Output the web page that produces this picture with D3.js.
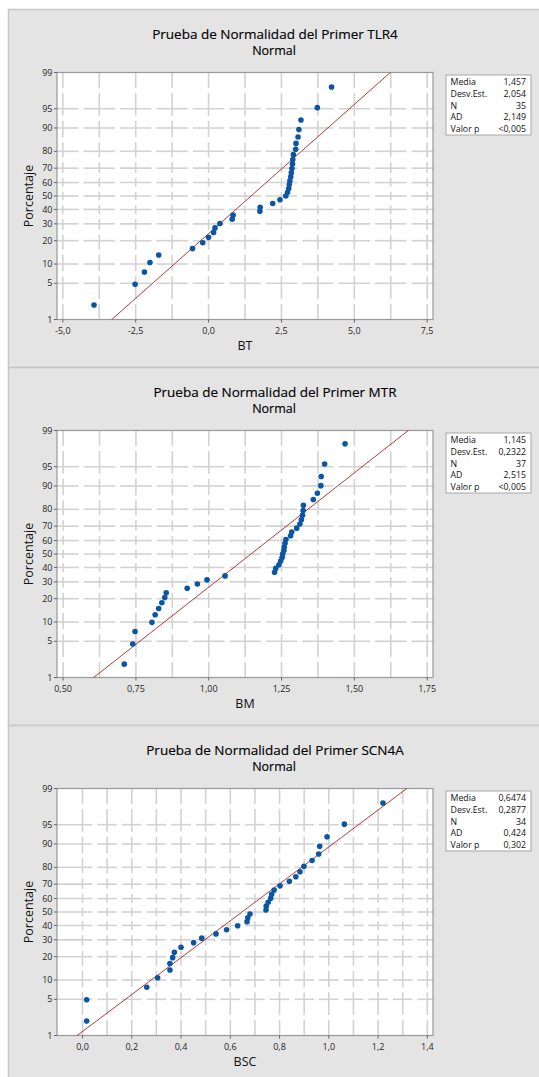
<!DOCTYPE html>
<html><head><meta charset="utf-8">
<script src="https://cdn.jsdelivr.net/npm/d3@7"></script>
<style>body{margin:0;background:#fff} svg{display:block}</style>
</head><body><svg id="c" width="539" height="1077"></svg>
<script>
// ---------- data ----------
const titles = ["Prueba de Normalidad del Primer TLR4", "Prueba de Normalidad del Primer MTR", "Prueba de Normalidad del Primer SCN4A"];
const subtitle = "Normal";
const xLabels = ["BT", "BM", "BSC"];
const yLabel = "Porcentaje";
const yTickLabels = [1, 5, 10, 20, 30, 40, 50, 60, 70, 80, 90, 95, 99];

const tlr4Values = [-3.93, -2.52, -2.20, -2.01, -1.71, -0.55, -0.20, 0.00, 0.17, 0.22, 0.39, 0.81, 0.84, 1.76, 1.77, 2.20, 2.45, 2.65, 2.71, 2.75, 2.77, 2.79, 2.82, 2.84, 2.86, 2.88, 2.89, 2.91, 2.99, 3.00, 3.07, 3.10, 3.17, 3.73, 4.22];
const tlr4Percent = [2.0, 4.8, 7.6, 10.5, 13.3, 16.1, 18.9, 21.8, 24.6, 27.4, 30.2, 33.1, 35.9, 38.7, 41.5, 44.4, 47.2, 50.0, 52.8, 55.6, 58.5, 61.3, 64.1, 66.9, 69.8, 72.6, 75.4, 78.2, 81.1, 83.9, 86.7, 89.5, 92.4, 95.2, 98.0];

const mtrValues = [0.710, 0.739, 0.747, 0.805, 0.816, 0.828, 0.839, 0.849, 0.854, 0.926, 0.961, 0.994, 1.056, 1.226, 1.230, 1.241, 1.247, 1.252, 1.254, 1.258, 1.259, 1.262, 1.265, 1.281, 1.285, 1.302, 1.313, 1.318, 1.322, 1.324, 1.325, 1.359, 1.373, 1.385, 1.386, 1.398, 1.468];
const mtrPercent = [1.9, 4.5, 7.2, 9.9, 12.6, 15.2, 17.9, 20.6, 23.3, 25.9, 28.6, 31.3, 34.0, 36.6, 39.3, 42.0, 44.7, 47.3, 50.0, 52.7, 55.3, 58.0, 60.7, 63.4, 66.0, 68.7, 71.4, 74.1, 76.7, 79.4, 82.1, 84.8, 87.4, 90.1, 92.8, 95.5, 98.1];

const scn4aValues = [0.017, 0.017, 0.261, 0.305, 0.355, 0.355, 0.366, 0.373, 0.400, 0.451, 0.484, 0.542, 0.585, 0.630, 0.668, 0.671, 0.680, 0.745, 0.746, 0.754, 0.764, 0.768, 0.778, 0.802, 0.840, 0.866, 0.883, 0.899, 0.932, 0.959, 0.963, 0.993, 1.063, 1.220];
const scn4aPercent = [2.0, 4.9, 7.8, 10.8, 13.7, 16.6, 19.5, 22.4, 25.3, 28.2, 31.1, 34.0, 36.9, 39.8, 42.7, 45.6, 48.5, 51.5, 54.4, 57.3, 60.2, 63.1, 66.0, 68.9, 71.8, 74.7, 77.6, 80.5, 83.4, 86.3, 89.2, 92.2, 95.1, 98.0];

const tlr4XTicks = [-5, -2.5, 0, 2.5, 5, 7.5];
const mtrXTicks = [0.5, 0.75, 1.0, 1.25, 1.5, 1.75];
const scn4aXTicks = [0, 0.2, 0.4, 0.6, 0.8, 1.0, 1.2, 1.4];

const statLabels = ["Media", "Desv.Est.", "N", "AD", "Valor p"];
const tlr4Stats = ["1,457", "2,054", "35", "2,149", "<0,005"];
const mtrStats = ["1,145", "0,2322", "37", "2,515", "<0,005"];
const scn4aStats = ["0,6474", "0,2877", "34", "0,424", "0,302"];
const fitMeans = [1.457, 1.145, 0.6474];
const fitSDs = [2.054, 0.2322, 0.2877];

// ---------- helpers ----------
function normInv(p){
  const a=[-3.969683028665376e+01,2.209460984245205e+02,-2.759285104469687e+02,1.383577518672690e+02,-3.066479806614716e+01,2.506628277459239e+00];
  const b=[-5.447609879822406e+01,1.615858368580409e+02,-1.556989798598866e+02,6.680131188771972e+01,-1.328068155288572e+01];
  const c=[-7.784894002430293e-03,-3.223964580411365e-01,-2.400758277161838e+00,-2.549732539343734e+00,4.374664141464968e+00,2.938163982698783e+00];
  const d=[7.784695709041462e-03,3.224671290700398e-01,2.445134137142996e+00,3.754408661907416e+00];
  const plow=0.02425, phigh=1-plow; let q, r;
  if(p<plow){q=Math.sqrt(-2*Math.log(p));return (((((c[0]*q+c[1])*q+c[2])*q+c[3])*q+c[4])*q+c[5])/((((d[0]*q+d[1])*q+d[2])*q+d[3])*q+1);}
  if(p>phigh){q=Math.sqrt(-2*Math.log(1-p));return -(((((c[0]*q+c[1])*q+c[2])*q+c[3])*q+c[4])*q+c[5])/((((d[0]*q+d[1])*q+d[2])*q+d[3])*q+1);}
  q=p-0.5; r=q*q;
  return (((((a[0]*r+a[1])*r+a[2])*r+a[3])*r+a[4])*r+a[5])*q/(((((b[0]*r+b[1])*r+b[2])*r+b[3])*r+b[4])*r+1);
}
const comma = s => s.replace(".", ",");

const panels = [
  {title: titles[0], xlabel: xLabels[0], values: tlr4Values, pct: tlr4Percent, ticks: tlr4XTicks, gridStep: 1.25, domain: [-5.2, 7.7], dec: 1, stats: tlr4Stats, mean: fitMeans[0], sd: fitSDs[0]},
  {title: titles[1], xlabel: xLabels[1], values: mtrValues, pct: mtrPercent, ticks: mtrXTicks, gridStep: 0.125, domain: [0.479, 1.770], dec: 2, stats: mtrStats, mean: fitMeans[1], sd: fitSDs[1]},
  {title: titles[2], xlabel: xLabels[2], values: scn4aValues, pct: scn4aPercent, ticks: scn4aXTicks, gridStep: 0.1, domain: [-0.1035, 1.423], dec: 1, stats: scn4aStats, mean: fitMeans[2], sd: fitSDs[2]}
];

const svg = d3.select("#c");
const FONT = "'Open Sans', 'Noto Sans', sans-serif";
const PH = 358;
const L = 57, R = 433, T = 72.5, B = 319.5;
const gridPct = [5, 10, 20, 30, 40, 50, 60, 70, 80, 90, 95];

panels.forEach((p, i) => {
  const g = svg.append("g").attr("transform", `translate(0,${i * PH})`);
  g.append("rect").attr("x", 8.5).attr("y", 9.5).attr("width", 540).attr("height", PH)
    .attr("fill", "#e4e4e4").attr("stroke", "#c6c6c6").attr("stroke-width", 1.5);

  const x = d3.scaleLinear().domain(p.domain).range([L, R]);
  const zs = d3.scaleLinear().domain([normInv(0.01), normInv(0.99)]).range([B, T]);
  const y = v => zs(normInv(v / 100));

  g.append("rect").attr("x", L).attr("y", T).attr("width", R - L).attr("height", B - T).attr("fill", "#fff");

  // grid: dashed segments centered on crossings
  const n = Math.round((p.ticks[p.ticks.length - 1] - p.ticks[0]) / p.gridStep);
  const vx = d3.range(n + 1).map(k => x(p.ticks[0] + k * p.gridStep));
  const hy = gridPct.map(y);
  const gap = 2.5;
  const gridG = g.append("g").attr("stroke", "#d2d2d2").attr("stroke-width", 1.6).attr("fill", "none");
  function segs(edges, a0, a1){
    const mids = [];
    for (let k = 0; k < edges.length - 1; k++) mids.push((edges[k] + edges[k + 1]) / 2);
    const out = []; let s = a0;
    mids.forEach(m => { if (m - gap > s) out.push([s, m - gap]); s = m + gap; });
    out.push([s, a1]);
    return out;
  }
  const hSegs = segs(vx, L, R);
  hy.forEach(yy => hSegs.forEach(s => gridG.append("line").attr("x1", s[0]).attr("x2", s[1]).attr("y1", yy).attr("y2", yy)));
  const vEdges = [T, ...hy.slice().sort((a, b) => a - b), B];
  const vSegs = segs(vEdges, T, B);
  vx.forEach(xx => vSegs.forEach(s => gridG.append("line").attr("x1", xx).attr("x2", xx).attr("y1", s[0]).attr("y2", s[1])));

  // frame
  g.append("rect").attr("x", L).attr("y", T).attr("width", R - L).attr("height", B - T)
    .attr("fill", "none").attr("stroke", "#999").attr("stroke-width", 1.2);

  // y ticks
  yTickLabels.forEach(v => {
    g.append("line").attr("x1", L - 3).attr("x2", L).attr("y1", y(v)).attr("y2", y(v)).attr("stroke", "#666");
    g.append("text").attr("x", L - 4.5).attr("y", y(v)).attr("dy", "0.35em").attr("text-anchor", "end")
      .attr("font-family", FONT).attr("font-size", 9).attr("fill", "#1e1e1e").text(v);
  });
  // x ticks
  p.ticks.forEach(v => {
    g.append("line").attr("x1", x(v)).attr("x2", x(v)).attr("y1", B).attr("y2", B + 3).attr("stroke", "#666");
    g.append("text").attr("x", x(v)).attr("y", B + 14).attr("text-anchor", "middle")
      .attr("font-family", FONT).attr("font-size", 9).attr("fill", "#1e1e1e").text(comma(v.toFixed(p.dec)));
  });

  // titles
  g.append("text").attr("x", 275).attr("y", 39).attr("text-anchor", "middle").attr("font-family", FONT)
    .attr("font-size", 13.5).attr("fill", "#000").attr("stroke", "#000").attr("stroke-width", 0.15).text(p.title);
  g.append("text").attr("x", 274).attr("y", 54.5).attr("text-anchor", "middle").attr("font-family", FONT)
    .attr("font-size", 12.5).attr("fill", "#000").attr("stroke", "#000").attr("stroke-width", 0.15).text(subtitle);
  g.append("text").attr("transform", `translate(32.5,${(T + B) / 2}) rotate(-90)`).attr("text-anchor", "middle")
    .attr("font-family", FONT).attr("font-size", 12.5).attr("fill", "#111").text(yLabel);
  g.append("text").attr("x", (L + R) / 2).attr("y", B + 30).attr("text-anchor", "middle")
    .attr("font-family", FONT).attr("font-size", 12.5).attr("fill", "#111").text(p.xlabel);

  // fitted line
  const z1 = normInv(0.01), z99 = normInv(0.99);
  g.append("line").attr("x1", x(p.mean + p.sd * z1)).attr("y1", zs(z1))
    .attr("x2", x(p.mean + p.sd * z99)).attr("y2", zs(z99))
    .attr("stroke", "#a82828").attr("stroke-width", 0.9);

  // points
  g.append("g").selectAll("circle").data(p.values).join("circle")
    .attr("cx", d => x(d)).attr("cy", (d, k) => y(p.pct[k])).attr("r", 2.8).attr("fill", "#0a56a5");

  // stats box
  const bx = 446, by = T + 2.5, bw = 85, bh = 60;
  g.append("rect").attr("x", bx).attr("y", by).attr("width", bw).attr("height", bh)
    .attr("fill", "#fff").attr("stroke", "#a8a8a8");
  statLabels.forEach((s, k) => {
    const yy = by + 7 + k * 11.8;
    g.append("text").attr("x", bx + 4.5).attr("y", yy).attr("dy", "0.35em").attr("font-family", FONT)
      .attr("font-size", 8.8).attr("fill", "#111").text(s);
    g.append("text").attr("x", bx + bw - 5).attr("y", yy).attr("dy", "0.35em").attr("text-anchor", "end")
      .attr("font-family", FONT).attr("font-size", 8.8).attr("fill", "#111").text(p.stats[k]);
  });
});
</script></body></html>
